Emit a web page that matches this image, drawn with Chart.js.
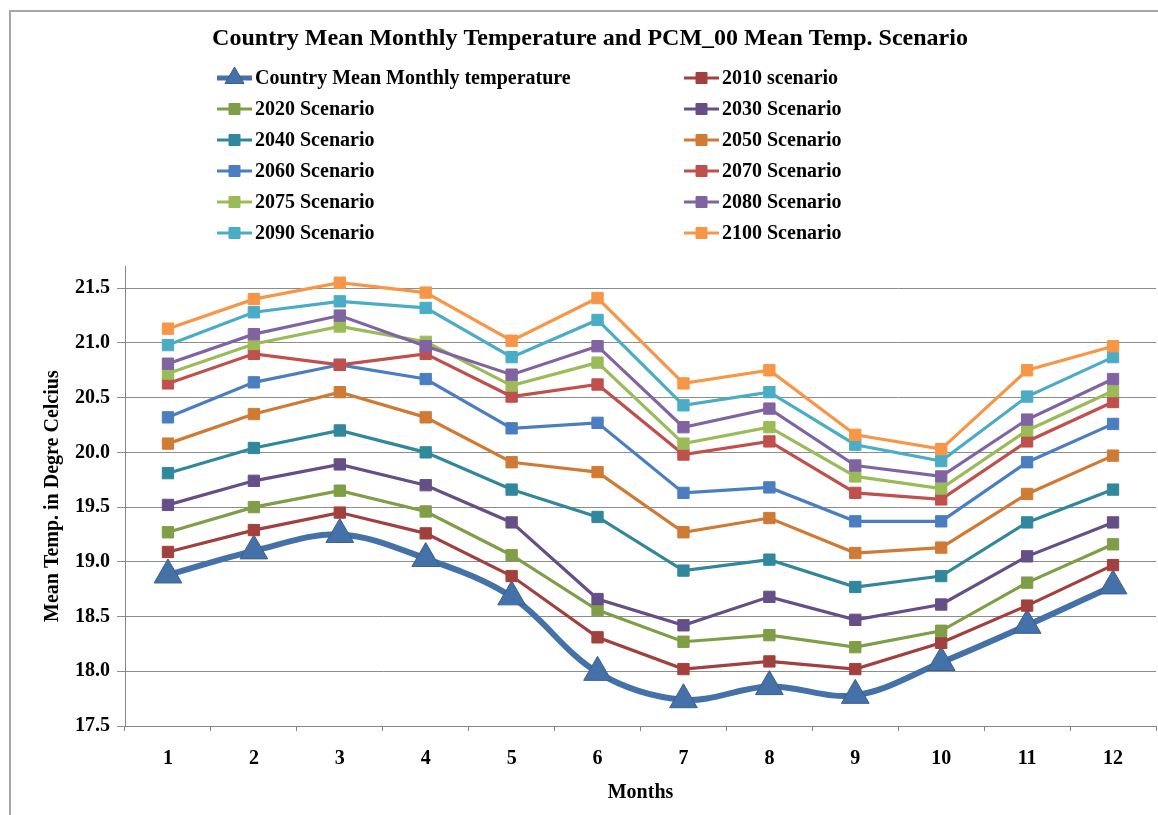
<!DOCTYPE html>
<html><head><meta charset="utf-8">
<script src="https://cdn.jsdelivr.net/npm/chart.js@4.4.1/dist/chart.umd.min.js"></script>
<style>
html,body{margin:0;padding:0;background:#fff;overflow:hidden}
#wrap{position:relative;width:1158px;height:815px;background:#fff}
#frame{position:absolute;left:9px;top:10px;width:1300px;height:900px;border-left:2px solid #a6a6a6;border-top:2px solid #a6a6a6;pointer-events:none}
canvas{position:absolute;left:0;top:0}
</style></head><body>
<div id="wrap"><canvas id="c" width="1158" height="815"></canvas><div id="frame"></div></div>
<script>
const months = ['1','2','3','4','5','6','7','8','9','10','11','12'];
const yTickValues = [17.5, 18.0, 18.5, 19.0, 19.5, 20.0, 20.5, 21.0, 21.5];

const countryMean = [18.88, 19.10, 19.25, 19.03, 18.68, 17.99, 17.74, 17.86, 17.78, 18.08, 18.42, 18.78];
const s2010 = [19.09, 19.29, 19.45, 19.26, 18.87, 18.31, 18.02, 18.09, 18.02, 18.26, 18.60, 18.97];
const s2020 = [19.27, 19.50, 19.65, 19.46, 19.06, 18.56, 18.27, 18.33, 18.22, 18.37, 18.81, 19.16];
const s2030 = [19.52, 19.74, 19.89, 19.70, 19.36, 18.66, 18.42, 18.68, 18.47, 18.61, 19.05, 19.36];
const s2040 = [19.81, 20.04, 20.20, 20.00, 19.66, 19.41, 18.92, 19.02, 18.77, 18.87, 19.36, 19.66];
const s2050 = [20.08, 20.35, 20.55, 20.32, 19.91, 19.82, 19.27, 19.40, 19.08, 19.13, 19.62, 19.97];
const s2060 = [20.32, 20.64, 20.80, 20.67, 20.22, 20.27, 19.63, 19.68, 19.37, 19.37, 19.91, 20.26];
const s2070 = [20.63, 20.90, 20.80, 20.90, 20.51, 20.62, 19.98, 20.10, 19.63, 19.57, 20.10, 20.46];
const s2075 = [20.72, 20.99, 21.15, 21.01, 20.61, 20.82, 20.08, 20.23, 19.78, 19.67, 20.20, 20.56];
const s2080 = [20.81, 21.08, 21.25, 20.97, 20.71, 20.97, 20.23, 20.40, 19.88, 19.78, 20.30, 20.67];
const s2090 = [20.98, 21.28, 21.38, 21.32, 20.87, 21.21, 20.43, 20.55, 20.07, 19.92, 20.51, 20.87];
const s2100 = [21.13, 21.40, 21.55, 21.46, 21.02, 21.41, 20.63, 20.75, 20.16, 20.03, 20.75, 20.97];

const seriesLabels = ['Country Mean Monthly temperature','2010 scenario','2020 Scenario','2030 Scenario',
  '2040 Scenario','2050 Scenario','2060 Scenario','2070 Scenario','2075 Scenario','2080 Scenario',
  '2090 Scenario','2100 Scenario'];
const seriesData = [countryMean, s2010, s2020, s2030, s2040, s2050, s2060, s2070, s2075, s2080, s2090, s2100];
const seriesColors = ['#4471A7','#A2403D','#7F9E47','#654F87','#31889D','#D07B35',
  '#4A7EC1','#C0504D','#9BBB59','#8064A2','#4BACC6','#F79646'];

const FONT = '"Liberation Serif", "Times New Roman", serif';

const datasets = seriesData.map((d, i) => {
  const isCountry = i === 0;
  return {
    label: seriesLabels[i],
    data: d,
    borderColor: seriesColors[i],
    backgroundColor: seriesColors[i],
    pointBackgroundColor: seriesColors[i],
    pointBorderColor: isCountry ? '#3A6090' : seriesColors[i],
    pointBorderWidth: 1,
    pointStyle: isCountry ? 'triangle' : 'rect',
    pointRadius: isCountry ? 16 : 8,
    borderWidth: isCountry ? 6 : 3.2,
    tension: isCountry ? 0.35 : 0,
    order: -i,
    fill: false
  };
});

const legendPlugin = {
  id: 'gridLegend',
  afterDraw(chart) {
    const ctx = chart.ctx;
    ctx.save();
    ctx.font = 'bold 20px ' + FONT;
    ctx.textBaseline = 'middle';
    ctx.textAlign = 'left';
    chart.data.datasets.forEach((ds, i) => {
      const row = Math.floor(i / 2), col = i % 2;
      const y = 78 + row * 31;
      const x0 = col ? 684 : 217;
      const x1 = x0 + 35;
      ctx.strokeStyle = ds.borderColor;
      ctx.lineWidth = i === 0 ? 5 : 3;
      ctx.beginPath(); ctx.moveTo(x0, y); ctx.lineTo(x1, y); ctx.stroke();
      const cx = (x0 + x1) / 2;
      ctx.fillStyle = ds.pointBackgroundColor;
      ctx.strokeStyle = ds.pointBorderColor;
      ctx.lineWidth = 1;
      ctx.beginPath();
      if (i === 0) {
        const r = 11;
        ctx.moveTo(cx, y - r);
        ctx.lineTo(cx + 0.866 * r, y + 0.5 * r);
        ctx.lineTo(cx - 0.866 * r, y + 0.5 * r);
        ctx.closePath();
      } else {
        ctx.rect(cx - 5.5, y - 5.5, 11, 11);
      }
      ctx.fill(); ctx.stroke();
      ctx.fillStyle = '#000';
      ctx.fillText(ds.label, x1 + 3, y + 1);
    });
    ctx.restore();
  }
};

new Chart(document.getElementById('c'), {
  type: 'line',
  data: { labels: months, datasets: datasets },
  options: {
    responsive: false,
    devicePixelRatio: 1,
    animation: false,
    layout: { autoPadding: false, padding: { top: 14, left: 24, right: 2, bottom: 0 } },
    plugins: {
      legend: { display: false },
      tooltip: { enabled: false },
      title: {
        display: true,
        text: 'Country Mean Monthly Temperature and PCM_00 Mean Temp. Scenario',
        color: '#000',
        font: { family: FONT, size: 24, weight: 'bold' },
        padding: { top: 10, bottom: 213.5 }
      }
    },
    scales: {
      x: {
        type: 'category',
        offset: true,
        afterFit: (s) => { s.height = 89; s.paddingLeft = 0; s.paddingRight = 0; },
        grid: { drawOnChartArea: false, drawTicks: true, tickLength: 5, color: '#868686', offset: true },
        border: { display: true, color: '#868686', width: 1 },
        ticks: { color: '#000', font: { family: FONT, size: 20, weight: 'bold' }, padding: 16, maxRotation: 0 },
        title: { display: true, text: 'Months', color: '#000', font: { family: FONT, size: 20, weight: 'bold' }, padding: { top: 0, bottom: 10 } }
      },
      y: {
        min: 17.5,
        max: 21.7,
        afterFit: (s) => { s.width = 101; s.paddingTop = 0; s.paddingBottom = 0; },
        afterBuildTicks: (s) => { s.ticks = yTickValues.map(v => ({ value: v })); },
        grid: { color: '#8c8c8c', lineWidth: 1, drawTicks: true, tickLength: 8 },
        border: { display: true, color: '#868686', width: 1 },
        ticks: { color: '#000', font: { family: FONT, size: 20, weight: 'bold' }, padding: 7,
          callback: (v) => Number(v).toFixed(1) },
        title: { display: true, text: 'Mean Temp. in Degre Celcius', color: '#000', font: { family: FONT, size: 20, weight: 'bold' }, padding: { top: 17, bottom: 0 } }
      }
    }
  },
  plugins: [legendPlugin]
});
</script>
</body></html>
